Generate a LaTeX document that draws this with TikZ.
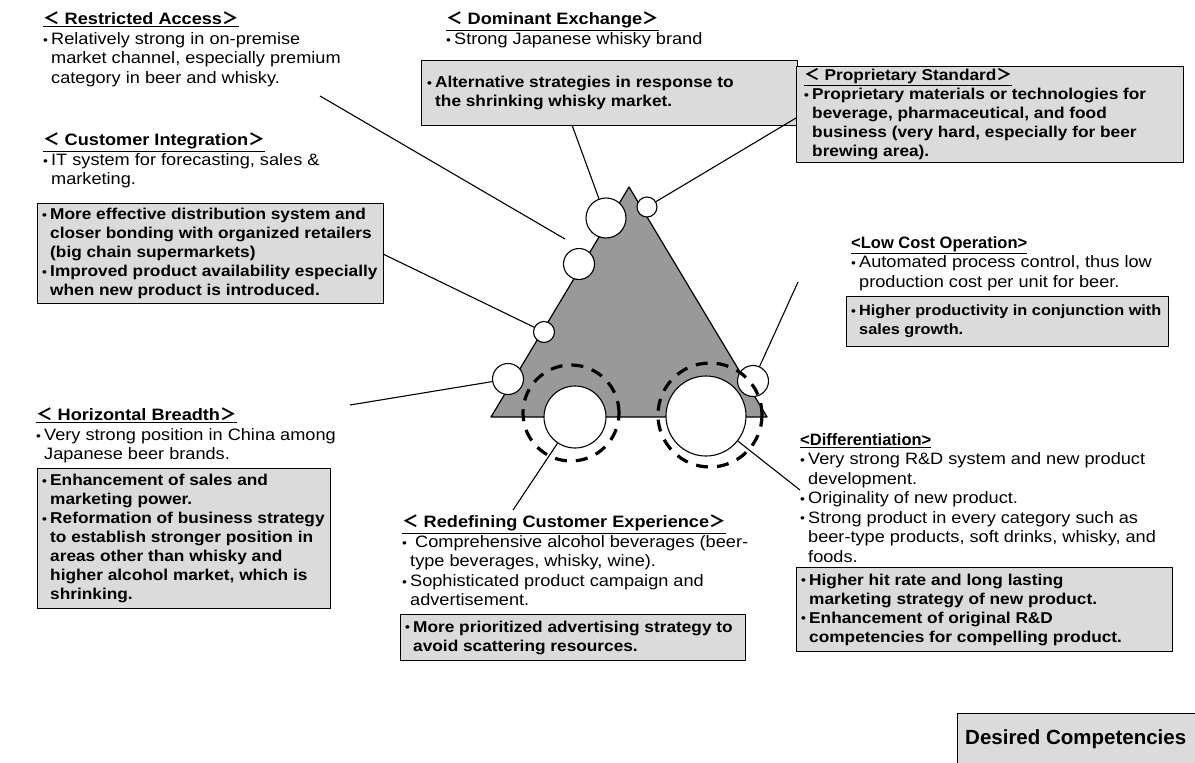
\documentclass[tikz,border=0pt]{standalone}
\usepackage{fontspec}
\setmainfont{Liberation Sans}[FakeStretch=1.1]
\newfontfamily\plainsans{Liberation Sans}
\newfontfamily\cjkfont{Noto Sans CJK JP}
\usetikzlibrary{positioning,calc}

\newcommand\bul{\makebox[8pt][l]{\fontsize{12.5}{12}\selectfont\raisebox{0.3pt}{•}}}
\newcommand\ind{\hspace*{8pt}}
\newcommand\hd[1]{\textbf{\underline{#1}}}
\newcommand\lb{{\cjkfont ＜}}
\newcommand\rb{{\cjkfont ＞}}

\tikzset{
  txt/.style={anchor=north west, inner sep=0pt, align=left,
    font=\fontsize{16.5}{19.5}\selectfont},
  boxtxt/.style={anchor=west, inner sep=0pt, align=left,
    font=\fontsize{15.7}{19}\bfseries\selectfont},
  gbox/.style={draw, line width=1.1pt, fill=black!14, anchor=north west,
    inner sep=0pt},
  bub/.style={draw, line width=1.1pt, fill=white, circle, inner sep=0pt},
  ring/.style={draw, line width=3.2pt, circle, inner sep=0pt,
    dash pattern=on 12pt off 9pt},
  lead/.style={line width=1.1pt}
}

\begin{document}
\begin{tikzpicture}[x=1pt,y=-1pt,line join=round]
\useasboundingbox (0,0) rectangle (1195,763);

% the triangle
\draw[fill=black!40, line width=1.2pt] (491,417) -- (767,417) -- (629,187) -- cycle;

% circles on the triangle
\node[bub, minimum size=40] (exch) at (606,218) {};
\node[bub, minimum size=20] (prop) at (647,207) {};
\node[bub, minimum size=31] (acc) at (579,264) {};
\node[bub, minimum size=21] (cust) at (544,332) {};
\node[bub, minimum size=31] (horz) at (508,379) {};
\node[bub, minimum size=31] (cost) at (753,381) {};
\node[bub, minimum size=62] (expr) at (575,417) {};
\node[bub, minimum size=80] (diff) at (706,416) {};
\node[ring, minimum size=96] (exprring) at (571,413) {};
\node[ring, minimum size=104] (diffring) at (710,415) {};

% <Restricted Access>
\node[txt] (ra) at (43,12) {\hd{\lb\ Restricted Access\rb}\\
  \bul Relatively strong in on-premise\\
  \ind market channel, especially premium\\
  \ind category in beer and whisky.};

% <Dominant Exchange>
\node[txt] (de) at (446,12) {\hd{\lb\ Dominant Exchange\rb}\\
  \bul Strong Japanese whisky brand};
\node[gbox, minimum width=376, minimum height=65] (debox) at (421,60) {};
\node[boxtxt] (detxt) at ($(debox.west)+(6,0)$) {\bul Alternative strategies in response to\\
  \ind the shrinking whisky market.};

% <Proprietary Standard>
\node[gbox, minimum width=387, minimum height=96] (psbox) at (796,66) {};
\node[boxtxt] (pstxt) at ($(psbox.west)+(8,0)$) {\hd{\lb\ Proprietary Standard\rb}\\
  \bul Proprietary materials or technologies for\\
  \ind beverage, pharmaceutical, and food\\
  \ind business (very hard, especially for beer\\
  \ind brewing area).};

% <Customer Integration>
\node[txt] (ci) at (43,133) {\hd{\lb\ Customer Integration\rb}\\
  \bul IT system for forecasting, sales \&\\
  \ind marketing.};
\node[gbox, minimum width=346, minimum height=100] (cibox) at (37,203) {};
\node[boxtxt] (citxt) at ($(cibox.west)+(5,0)$) {\bul More effective distribution system and\\
  \ind closer bonding with organized retailers\\
  \ind (big chain supermarkets)\\
  \bul Improved product availability especially\\
  \ind when new product is introduced.};

% <Low Cost Operation>
\node[txt] (lco) at (851,236) {{\plainsans\hd{<Low Cost Operation>}}\\
  \bul Automated process control, thus low\\
  \ind production cost per unit for beer.};
\node[gbox, minimum width=322, minimum height=50] (lcobox) at (846,296) {};
\node[boxtxt, font=\fontsize{14.8}{19}\bfseries\selectfont] (lcotxt)
  at ($(lcobox.west)+(5,0)$) {\bul Higher productivity in conjunction with\\
  \ind sales growth.};

% <Horizontal Breadth>
\node[txt] (hb) at (36,408) {\hd{\lb\ Horizontal Breadth\rb}\\
  \bul Very strong position in China among\\
  \ind Japanese beer brands.};
\node[gbox, minimum width=293, minimum height=140] (hbbox) at (37,468) {};
\node[boxtxt] (hbtxt) at ($(hbbox.west)+(5,0)$) {\bul Enhancement of sales and\\
  \ind marketing power.\\
  \bul Reformation of business strategy\\
  \ind to establish stronger position in\\
  \ind areas other than whisky and\\
  \ind higher alcohol market, which is\\
  \ind shrinking.};

% <Redefining Customer Experience>
\node[txt] (rce) at (402,515) {\hd{\lb\ Redefining Customer Experience\rb}\\
  \bul\ Comprehensive alcohol beverages (beer-\\
  \ind type beverages, whisky, wine).\\
  \bul Sophisticated product campaign and\\
  \ind advertisement.};
\node[gbox, minimum width=345, minimum height=46] (rcebox) at (400,614) {};
\node[boxtxt] (rcetxt) at ($(rcebox.west)+(5,0)$) {\bul More prioritized advertising strategy to\\
  \ind avoid scattering resources.};

% <Differentiation>
\node[txt] (df) at (800,433) {{\plainsans\hd{<Differentiation>}}\\
  \bul Very strong R\&D system and new product\\
  \ind development.\\
  \bul Originality of new product.\\
  \bul Strong product in every category such as\\
  \ind beer-type products, soft drinks, whisky, and\\
  \ind foods.};
\node[gbox, minimum width=376, minimum height=84] (dfbox) at (796,567) {};
\node[boxtxt] (dftxt) at ($(dfbox.west)+(5,0)$) {\bul Higher hit rate and long lasting\\
  \ind marketing strategy of new product.\\
  \bul Enhancement of original R\&D\\
  \ind competencies for compelling product.};

% legend
\node[gbox, minimum width=250, minimum height=52] (dcbox) at (957,713) {};
\node[anchor=west, inner sep=0pt, font=\plainsans\fontsize{20.5}{24}\bfseries\selectfont] (dc)
  at ($(dcbox.west)+(8,0)$) {Desired Competencies};

% leaders
\coordinate (ra-end) at (320,96);
\coordinate (ra-tip) at (565,239);
\coordinate (de-end) at (572,125);
\coordinate (ps-end) at (796,118);
\coordinate (ci-end) at (383,254);
\coordinate (hb-end) at (350,405);
\coordinate (lco-end) at (798,282);
\coordinate (df-end) at (800,490);
\coordinate (rce-end) at (513,510);
\draw[lead] (ra-end) -- (ra-tip);
\draw[lead] (de-end) -- (exch);
\draw[lead] (ps-end) -- (prop);
\draw[lead] (ci-end) -- (cust);
\draw[lead] (hb-end) -- (horz);
\draw[lead] (lco-end) -- (cost);
\draw[lead] (df-end) -- (diff);
\draw[lead] (rce-end) -- (expr);
\end{tikzpicture}
\end{document}
